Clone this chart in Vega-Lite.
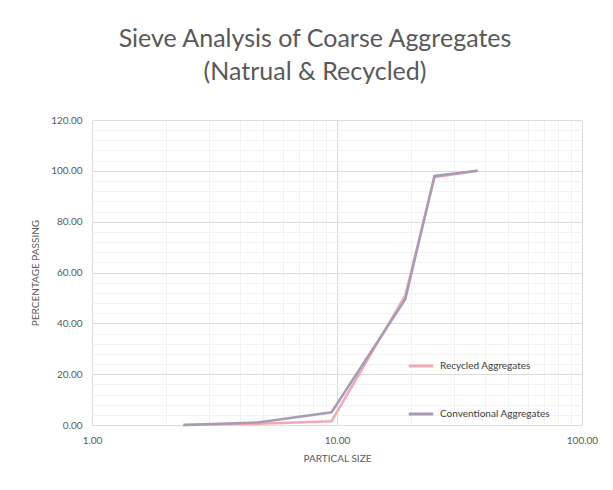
{
  "$schema": "https://vega.github.io/schema/vega-lite/v6.json",
  "width": 490,
  "height": 305,
  "autosize": {"type": "none"},
  "padding": {"left": 92, "top": 120, "right": 31, "bottom": 65},
  "background": "white",
  "title": {
    "text": ["Sieve Analysis of Coarse Aggregates", "(Natrual & Recycled)"],
    "font": "Lato",
    "fontSize": 25,
    "fontWeight": "normal",
    "color": "#595959",
    "anchor": "middle",
    "dx": -22,
    "offset": 30,
    "lineHeight": 33
  },
  "data": {
    "values": [
      {"size": 2.36, "passing": 0.0, "series": "Recycled Aggregates"},
      {"size": 4.75, "passing": 0.5, "series": "Recycled Aggregates"},
      {"size": 9.5, "passing": 1.5, "series": "Recycled Aggregates"},
      {"size": 19, "passing": 51.0, "series": "Recycled Aggregates"},
      {"size": 25, "passing": 97.5, "series": "Recycled Aggregates"},
      {"size": 37.5, "passing": 100.0, "series": "Recycled Aggregates"},
      {"size": 2.36, "passing": 0.0, "series": "Conventional Aggregates"},
      {"size": 4.75, "passing": 1.0, "series": "Conventional Aggregates"},
      {"size": 9.5, "passing": 5.0, "series": "Conventional Aggregates"},
      {"size": 19, "passing": 49.5, "series": "Conventional Aggregates"},
      {"size": 25, "passing": 98.0, "series": "Conventional Aggregates"},
      {"size": 37.5, "passing": 100.0, "series": "Conventional Aggregates"}
    ]
  },
  "mark": {"type": "line", "strokeWidth": 2.5},
  "encoding": {
    "x": {
      "field": "size",
      "type": "quantitative",
      "scale": {"type": "log", "domain": [1, 100], "nice": false},
      "axis": {
        "values": [1, 2, 3, 4, 5, 6, 7, 8, 9, 10, 20, 30, 40, 50, 60, 70, 80, 90, 100],
        "labelExpr": "(datum.value == 1 || datum.value == 10 || datum.value == 100) ? format(datum.value, '.2f') : ''",
        "labelOverlap": false,
        "labelFlush": false,
        "title": "PARTICAL SIZE",
        "grid": true,
        "gridColor": {"condition": {"test": "datum.value == 1 || datum.value == 10 || datum.value == 100", "value": "#dcdcdc"}, "value": "#f2f2f2"},
        "ticks": false,
        "domain": false,
        "labelPadding": 10,
        "labelFont": "Lato",
        "labelFontSize": 10,
        "labelColor": "#595959",
        "titleFont": "Lato",
        "titleFontSize": 10,
        "titleFontWeight": "normal",
        "titleColor": "#595959",
        "titlePadding": 8
      }
    },
    "y": {
      "field": "passing",
      "type": "quantitative",
      "scale": {"domain": [0, 120], "nice": false},
      "axis": {
        "values": [0, 4, 8, 12, 16, 20, 24, 28, 32, 36, 40, 44, 48, 52, 56, 60, 64, 68, 72, 76, 80, 84, 88, 92, 96, 100, 104, 108, 112, 116, 120],
        "labelExpr": "datum.value % 20 == 0 ? format(datum.value, '.2f') : ''",
        "labelOverlap": false,
        "labelFlush": false,
        "title": "PERCENTAGE PASSING",
        "grid": true,
        "gridColor": {"condition": {"test": "datum.value % 20 == 0", "value": "#dcdcdc"}, "value": "#f2f2f2"},
        "ticks": false,
        "domain": false,
        "labelPadding": 10,
        "labelFont": "Lato",
        "labelFontSize": 10,
        "labelColor": "#595959",
        "titleFont": "Lato",
        "titleFontSize": 10,
        "titleFontWeight": "normal",
        "titleColor": "#595959",
        "titlePadding": 10
      }
    },
    "color": {
      "field": "series",
      "type": "nominal",
      "scale": {"domain": ["Recycled Aggregates", "Conventional Aggregates"], "range": ["#f3a9b2", "#a99bb8"]},
      "legend": {
        "orient": "none",
        "legendX": 315,
        "legendY": 232,
        "title": null,
        "symbolType": "stroke",
        "symbolSize": 600,
        "symbolStrokeWidth": 3,
        "labelFont": "Lato",
        "labelFontSize": 10,
        "labelColor": "#404040",
        "labelOffset": 5,
        "rowPadding": 28
      }
    }
  },
  "config": {"view": {"stroke": null}}
}
